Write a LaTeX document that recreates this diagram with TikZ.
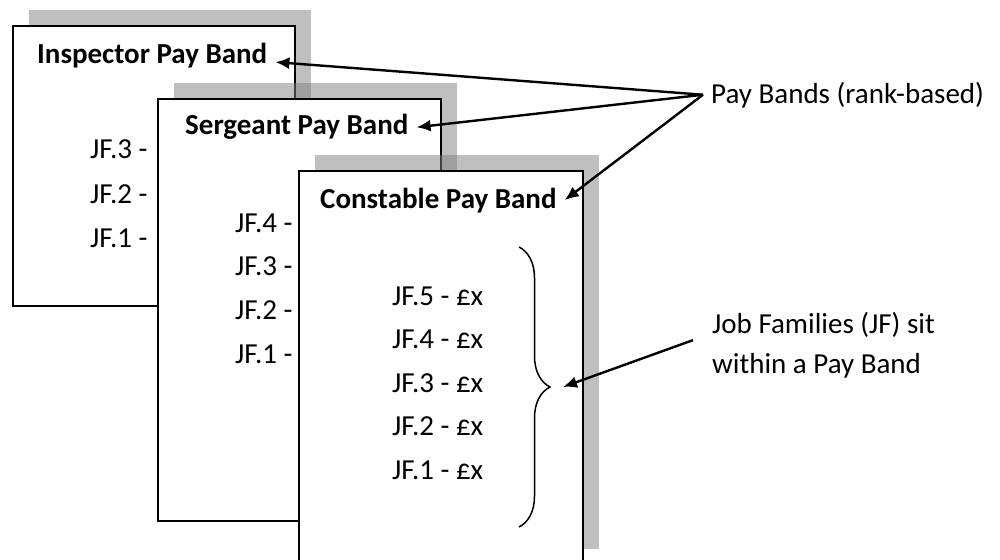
\documentclass[tikz,border=0pt]{standalone}
\usepackage{fontspec}
\setmainfont{Carlito}
\usetikzlibrary{arrows.meta,shadows,decorations.pathreplacing}
\begin{document}
\begin{tikzpicture}[
        x=1pt, y=-1pt,
        >={Latex[length=14pt,width=12pt]},
        font=\fontsize{29}{40}\selectfont,
        band/.style={
            rectangle,
            draw=black,
            line width=2pt,
            fill=white,
            anchor=north west,
            drop shadow={shadow xshift=16pt, shadow yshift=16pt, fill=black!50, opacity=0.5}
        },
        title/.style={
            anchor=base west,
            inner xsep=8pt,
            inner ysep=0pt,
            font=\fontsize{29}{40}\selectfont\bfseries
        },
        grade/.style={
            anchor=base west,
            inner sep=0pt
        },
        arrow/.style={
            ->,
            line width=2.4pt,
            draw=black
        }
    ]

    \useasboundingbox (0,0) rectangle (1000,559);

    % inspector band
    \node[band, minimum width=282pt, minimum height=280pt] (inspector) at (12,25) {};
    \node[title] (insptitle) at (29,64) {Inspector Pay Band};
    \node[grade] (insp3) at (90,158) {JF.3 -};
    \node[grade] (insp2) at (90,203) {JF.2 -};
    \node[grade] (insp1) at (90,247) {JF.1 -};

    % sergeant band
    \node[band, minimum width=283pt, minimum height=422pt] (sergeant) at (157,98) {};
    \node[title] (sergtitle) at (177,135) {Sergeant Pay Band};
    \node[grade] (serg4) at (235,232) {JF.4 -};
    \node[grade] (serg3) at (235,275) {JF.3 -};
    \node[grade] (serg2) at (235,319) {JF.2 -};
    \node[grade] (serg1) at (235,363) {JF.1 -};

    % constable band
    \node[band, minimum width=284pt, minimum height=394pt] (constable) at (298,170) {};
    \node[title] (consttitle) at (312,208) {Constable Pay Band};
    \node[grade] (const5) at (392,305) {JF.5 - £x};
    \node[grade] (const4) at (392,348) {JF.4 - £x};
    \node[grade] (const3) at (392,392) {JF.3 - £x};
    \node[grade] (const2) at (392,435) {JF.2 - £x};
    \node[grade] (const1) at (392,479) {JF.1 - £x};

    \draw[decorate, decoration={brace, amplitude=31pt}, line width=1.5pt]
        (519,247) -- (519,527);
    \coordinate (bracetip) at (563,387);

    % labels on the right
    \node[anchor=base west, inner xsep=8pt, inner ysep=0pt] (paybands) at (703,103)
        {Pay Bands (rank-based)};
    \node[anchor=north west, align=left, inner sep=0pt] (jobfam) at (712,312)
        {Job Families (JF) sit\\within a Pay Band};

    \draw[arrow] (paybands.west) -- ([yshift=-6pt]insptitle.east);
    \draw[arrow] (paybands.west) -- (sergtitle.east);
    \draw[arrow] (paybands.west) -- (consttitle.east);
    \draw[arrow] ([xshift=-19pt,yshift=5pt]jobfam.west) -- (bracetip);

\end{tikzpicture}
\end{document}
